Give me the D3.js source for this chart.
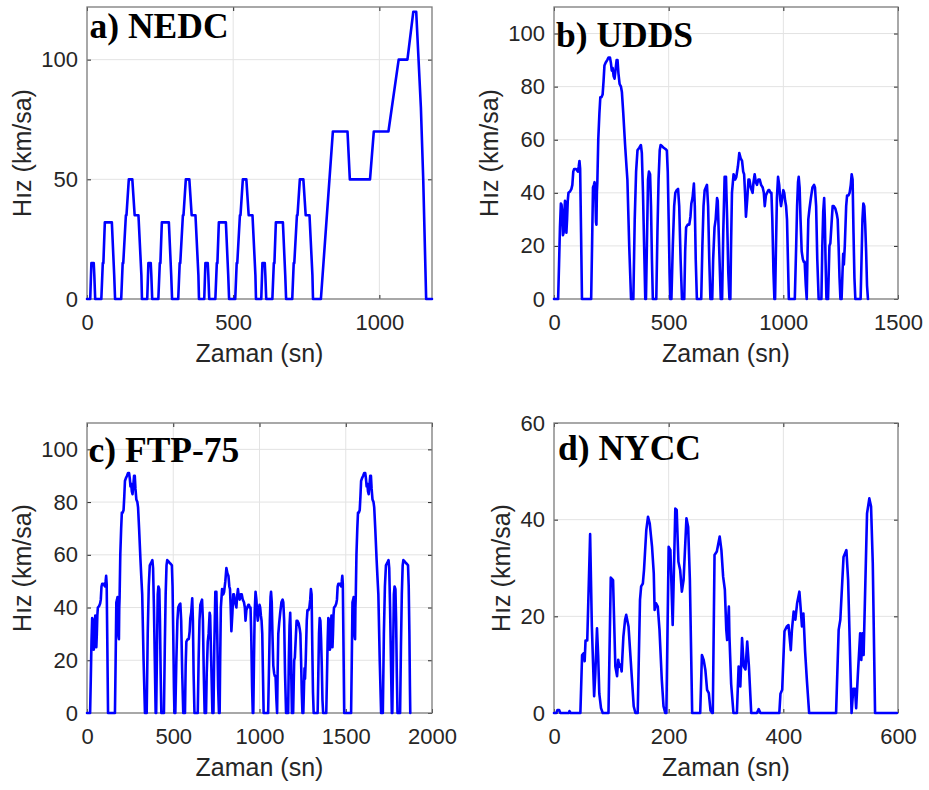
<!DOCTYPE html>
<html>
<head>
<meta charset="utf-8">
<script src="https://cdn.jsdelivr.net/npm/d3@7"></script>
<style>
  body { margin: 0; background: #fff; }
</style>
</head>
<body>
<svg id="chart" width="929" height="790"></svg>
<script>
// NEDC: 4 x ECE-15 + EUDC (sn, km/sa)
const nedcTime = [
  0, 11, 15, 23, 25, 28, 49, 54, 56, 61, 85, 93, 96, 117, 122, 124, 133, 135, 143, 155, 163, 176, 186, 188,
  195, 206, 210, 218, 220, 223, 244, 249, 251, 256, 280, 288, 291, 312, 317, 319, 328, 330, 338, 350, 358, 371, 381, 383,
  390, 401, 405, 413, 415, 418, 439, 444, 446, 451, 475, 483, 486, 507, 512, 514, 523, 525, 533, 545, 553, 566, 576, 578,
  585, 596, 600, 608, 610, 613, 634, 639, 641, 646, 670, 678, 681, 702, 707, 709, 718, 720, 728, 740, 748, 761, 771, 773,
  780, 800, 841, 891, 899, 968, 981, 1031, 1066, 1096, 1116, 1126, 1142, 1150, 1160, 1180
];
const nedcSpeed = [
  0, 0, 15, 15, 10, 0, 0, 15, 15, 32, 32, 10, 0, 0, 15, 15, 35, 35, 50, 50, 35, 35, 10, 0,
  0, 0, 15, 15, 10, 0, 0, 15, 15, 32, 32, 10, 0, 0, 15, 15, 35, 35, 50, 50, 35, 35, 10, 0,
  0, 0, 15, 15, 10, 0, 0, 15, 15, 32, 32, 10, 0, 0, 15, 15, 35, 35, 50, 50, 35, 35, 10, 0,
  0, 0, 15, 15, 10, 0, 0, 15, 15, 32, 32, 10, 0, 0, 15, 15, 35, 35, 50, 50, 35, 35, 10, 0,
  0, 0, 70, 70, 50, 50, 70, 70, 100, 100, 120, 120, 80, 50, 0, 0
];

// UDDS
const uddsTime = [
  0, 18, 22, 26, 30, 33, 36, 39, 42, 46, 48, 51, 54, 57, 60, 63, 70, 76, 80, 84, 88, 95, 100, 104, 108, 111, 114, 118, 122,
  162, 166, 170, 174, 177, 180, 183, 185, 187, 189, 193, 198, 202, 207, 212, 216, 220, 225, 232, 238, 244, 248, 252, 256,
  260, 264, 268, 273, 277, 281, 286, 292, 296, 302, 310, 316, 320, 328, 336,
  346, 352, 358, 364, 372, 379, 383, 388, 393, 398,
  401, 406, 410, 414, 419, 423, 427, 431,
  446, 451, 456, 461, 465, 472, 478, 486, 492, 496, 500, 504, 507,
  512, 518, 524, 529, 535, 541, 546, 552, 558,
  568, 572, 576, 583, 590, 595, 599, 604, 610, 614, 618, 623,
  642, 647, 652, 657, 662, 667, 672, 677, 682,
  690, 694, 700, 705, 711, 714, 720, 727,
  733, 738, 744, 750, 755, 760, 765,
  769, 772, 776, 783, 790, 795, 802, 808, 814, 820, 825, 829, 833, 837, 843, 848, 852, 858, 866, 870, 875, 880, 885, 891,
  897, 903, 910, 915, 919, 924, 929, 935, 939, 944, 948, 952, 957, 961,
  964, 968, 972, 977, 982, 987, 990, 995, 1000, 1004, 1008, 1012, 1016, 1020, 1024,
  1050, 1056, 1060, 1064, 1067, 1071, 1075, 1080, 1085, 1089, 1093, 1098, 1102,
  1105, 1109, 1114, 1120, 1127, 1134, 1138, 1143, 1148, 1154,
  1166, 1170, 1174, 1178, 1181, 1184, 1188,
  1195, 1198, 1201, 1205, 1210, 1215, 1220, 1227, 1233, 1237, 1241, 1245, 1249,
  1254, 1258, 1261, 1264, 1268, 1274, 1278, 1284, 1289, 1294, 1298, 1302, 1306, 1310, 1314,
  1337, 1341, 1345, 1349, 1353, 1357, 1361, 1365, 1369
];
const uddsSpeed = [
  0, 0, 13, 27, 36, 35.5, 32, 24, 25, 34, 37, 36, 25, 30, 37, 40, 40.5, 41.5, 43, 48, 49, 49, 48.5, 48, 50, 52, 49, 25, 0,
  0, 20, 42, 43, 44, 40, 29, 28, 40, 44, 60, 70, 76, 76, 77, 82, 88, 89, 90, 91, 91, 89, 86, 87,
  84, 83, 86, 90, 90, 85, 81, 80, 78, 70, 58, 50, 45, 20, 0,
  0, 30, 48, 56, 57, 58, 55, 40, 20, 0,
  0, 25, 45, 48, 47, 35, 15, 0,
  0, 25, 45, 56, 58, 57.5, 57, 56.5, 56, 48, 30, 10, 0,
  0, 20, 35, 40, 41, 41.5, 35, 15, 0,
  0, 18, 27, 28, 28, 31, 36, 38, 43.5, 35, 15, 0,
  0, 20, 35, 41, 42, 43, 35, 15, 0,
  0, 15, 27, 30, 38, 37, 20, 0,
  0, 25, 46, 46, 30, 10, 0,
  0, 20, 40, 47, 45, 46, 50, 55, 53, 52, 48, 47, 40, 31, 38, 45, 45, 42, 40, 44, 47, 44, 43, 45,
  45, 43, 42, 40, 35, 39, 40, 41, 41, 40, 40, 30, 10, 0,
  0, 20, 38, 46, 43, 37, 35, 38, 41, 40, 37, 35, 30, 15, 0,
  0, 20, 35, 44, 46, 42, 30, 18, 15, 14, 14, 5, 0,
  15, 30, 34, 38, 42, 43, 42, 35, 15, 0,
  0, 20, 33, 38, 30, 15, 0,
  0, 10, 20, 21, 28, 35, 35, 34, 32, 30, 20, 8, 0,
  0, 10, 17, 13, 20, 35, 39, 39, 40, 43, 47, 45, 25, 8, 0,
  0, 15, 30, 36, 35, 28, 18, 5, 0
];

// FTP-75 hot-start phase after the UDDS
const ftpHotTime = [
  1387, 1391, 1395, 1399, 1402, 1405, 1408, 1411, 1415, 1417, 1420, 1423, 1426, 1429, 1432, 1439, 1445, 1449, 1453,
  1457, 1464, 1469, 1473, 1477, 1480, 1483, 1487, 1491,
  1531, 1535, 1539, 1543, 1546, 1549, 1552, 1554, 1556, 1558, 1562, 1567, 1571, 1576, 1581, 1585, 1589, 1594, 1601,
  1607, 1613, 1617, 1621, 1625, 1629, 1633, 1637, 1642, 1646, 1650, 1655, 1661, 1665, 1671, 1679, 1685, 1689, 1697, 1705,
  1715, 1721, 1727, 1733, 1741, 1748, 1752, 1757, 1762, 1767,
  1770, 1775, 1779, 1783, 1788, 1792, 1796, 1800,
  1815, 1820, 1825, 1830, 1834, 1841, 1847, 1855, 1861, 1865, 1869, 1872, 1874
];
const ftpHotSpeed = [
  0, 13, 27, 36, 35.5, 32, 24, 25, 34, 37, 36, 25, 30, 37, 40, 40.5, 41.5, 43, 48,
  49, 49, 48.5, 48, 50, 52, 49, 25, 0,
  0, 20, 42, 43, 44, 40, 29, 28, 40, 44, 60, 70, 76, 76, 77, 82, 88, 89, 90,
  91, 91, 89, 86, 87, 84, 83, 86, 90, 90, 85, 81, 80, 78, 70, 58, 50, 45, 20, 0,
  0, 30, 48, 56, 57, 58, 55, 40, 20, 0,
  0, 25, 45, 48, 47, 35, 15, 0,
  0, 25, 45, 56, 58, 57.5, 57, 56.5, 56, 48, 30, 10, 0
];

// NYCC
const nyccTime = [
  0, 4, 6, 9, 11, 26, 27, 29,
  46, 49, 52, 53.5, 55, 58, 63, 66, 70, 72, 75, 77, 79, 82, 85,
  95, 99, 103, 107, 110, 112, 114, 116, 118, 121, 124, 126, 130, 133, 136, 139, 142,
  146, 150, 152, 155, 157, 161, 164, 167, 171, 174, 175.5, 178, 181, 184, 188, 191, 194,
  196, 200, 203, 207, 211.6, 214, 217, 220, 223, 226, 231, 234, 237, 241,
  255, 258, 261, 264, 267, 270, 273, 276,
  277, 280, 284, 289, 292, 295, 298, 300.5, 302, 305, 306, 309, 313,
  319, 322, 325, 328, 331, 334, 337, 340, 344,
  354, 357, 360,
  393, 395, 398, 402, 406, 409, 413, 415, 418, 421, 424, 428, 430, 432.5, 435, 438, 441, 445,
  492, 496.5, 499.4, 505, 510, 513, 516, 519, 522, 525, 527, 530, 534, 536, 538, 540, 546, 550, 553, 556, 560, 598
];
const nyccSpeed = [
  0, 0, 0.6, 0.6, 0, 0, 0.4, 0,
  0, 12, 12.4, 10.7, 15, 15, 37, 18, 3.5, 8, 17.5, 12, 4, 1, 0,
  0, 28, 27.5, 9.6, 7.6, 11, 9.6, 10, 8.6, 15.8, 19.3, 20.3, 17.9, 12.4, 6.9, 1.4, 0,
  0, 23.4, 26.2, 26.8, 29.6, 37.9, 40.6, 39.2, 34.4, 28.9, 21.3, 22.7, 22, 17.2, 6.9, 1.4, 0,
  0, 34.4, 33.7, 18.2, 42.3, 42, 31.3, 29.6, 25.1, 27.5, 40.3, 38.5, 27.5, 0,
  0, 12, 11, 8.9, 4.8, 4.1, 0.5, 0,
  0, 32.7, 33.4, 36.5, 33.7, 28.2, 25.5, 17.2, 15.1, 22, 15.8, 6, 0,
  0, 9.6, 5.5, 15.5, 9.6, 9, 14.8, 9.6, 0,
  0, 0.8, 0,
  0, 4, 4.8, 16.9, 17.9, 18.2, 13, 17.2, 21, 19.3, 22.7, 25.1, 22, 17.9, 20.6, 12.7, 6.9, 0,
  0, 17.2, 19.3, 32.3, 33.7, 27.5, 13.8, 0, 5, 5, 1, 8, 16.5, 11, 16.5, 12, 41.3, 44.4, 42.7, 31, 0, 0
];

const nedcXTicks = [0, 500, 1000];
const nedcYTicks = [0, 50, 100];
const uddsXTicks = [0, 500, 1000, 1500];
const ftpXTicks = [0, 500, 1000, 1500, 2000];
const speedYTicks = [0, 20, 40, 60, 80, 100];
const nyccXTicks = [0, 200, 400, 600];
const nyccYTicks = [0, 20, 40, 60];

const X_LABEL = "Zaman (sn)";
const Y_LABEL = "Hız (km/sa)";

const AXIS_COLOR = "#262626";
const BOX_COLOR = "#7a7a7a";
const GRID_COLOR = "#e3e3e3";
const LINE_COLOR = "#0000ff";
const SANS = "'Liberation Sans', Arial, Helvetica, sans-serif";
const SERIF = "'Liberation Serif', 'Times New Roman', serif";

const ftpTime = uddsTime.concat(ftpHotTime);
const ftpSpeed = uddsSpeed.concat(ftpHotSpeed);

const panels = [
  { title: "a) NEDC", time: nedcTime, speed: nedcSpeed, xMax: 1180, yMax: 122,
    xTicks: nedcXTicks, yTicks: nedcYTicks,
    left: 87, right: 432, top: 7, bottom: 299, titleDx: 2.5, titleDy: 30.5, yLabelGap: 56 },
  { title: "b) UDDS", time: uddsTime, speed: uddsSpeed, xMax: 1500, yMax: 110,
    xTicks: uddsXTicks, yTicks: speedYTicks,
    left: 554, right: 898, top: 7, bottom: 299, titleDx: 2, titleDy: 39.5, yLabelGap: 56.5 },
  { title: "c) FTP-75", time: ftpTime, speed: ftpSpeed, xMax: 2000, yMax: 110,
    xTicks: ftpXTicks, yTicks: speedYTicks,
    left: 87, right: 432, top: 423, bottom: 713, titleDx: 1.5, titleDy: 38.5, yLabelGap: 56 },
  { title: "d) NYCC", time: nyccTime, speed: nyccSpeed, xMax: 600, yMax: 60,
    xTicks: nyccXTicks, yTicks: nyccYTicks,
    left: 554, right: 898, top: 423, bottom: 713, titleDx: 4, titleDy: 37, yLabelGap: 44 },
];

const svg = d3.select("#chart");
const fmt = d3.format("d");

const styleAxis = (g) => {
  g.select(".domain").remove();
  g.attr("font-family", SANS).attr("font-size", 22).attr("color", AXIS_COLOR);
  g.selectAll(".tick line").attr("stroke", AXIS_COLOR).attr("stroke-width", 1);
};

panels.forEach((p) => {
  const xScale = d3.scaleLinear().domain([0, p.xMax]).range([p.left, p.right]);
  const yScale = d3.scaleLinear().domain([0, p.yMax]).range([p.bottom, p.top]);
  const g = svg.append("g");

  // grid
  g.append("g")
    .selectAll("line")
    .data(p.xTicks.filter((d) => d > 0 && d < p.xMax))
    .join("line")
    .attr("x1", (d) => xScale(d))
    .attr("x2", (d) => xScale(d))
    .attr("y1", p.top)
    .attr("y2", p.bottom)
    .attr("stroke", GRID_COLOR)
    .attr("stroke-width", 1);
  g.append("g")
    .selectAll("line")
    .data(p.yTicks.filter((d) => d > 0 && d < p.yMax))
    .join("line")
    .attr("x1", p.left)
    .attr("x2", p.right)
    .attr("y1", (d) => yScale(d))
    .attr("y2", (d) => yScale(d))
    .attr("stroke", GRID_COLOR)
    .attr("stroke-width", 1);

  // axes (inward ticks, mirrored on top/right)
  g.append("g")
    .attr("transform", `translate(0, ${p.bottom})`)
    .call(d3.axisBottom(xScale).tickValues(p.xTicks).tickFormat(fmt).tickSize(-4).tickPadding(15.5))
    .call(styleAxis);
  g.append("g")
    .attr("transform", `translate(${p.left}, 0)`)
    .call(d3.axisLeft(yScale).tickValues(p.yTicks).tickFormat(fmt).tickSize(-4).tickPadding(9))
    .call(styleAxis);
  g.append("g")
    .attr("transform", `translate(0, ${p.top})`)
    .call(d3.axisTop(xScale).tickValues(p.xTicks).tickSize(-4).tickFormat(""))
    .call(styleAxis);
  g.append("g")
    .attr("transform", `translate(${p.right}, 0)`)
    .call(d3.axisRight(yScale).tickValues(p.yTicks).tickSize(-4).tickFormat(""))
    .call(styleAxis);

  g.append("rect")
    .attr("x", p.left)
    .attr("y", p.top)
    .attr("width", p.right - p.left)
    .attr("height", p.bottom - p.top)
    .attr("fill", "none")
    .attr("stroke", BOX_COLOR)
    .attr("stroke-width", 1.3);

  const line = d3
    .line()
    .x((d) => xScale(d[0]))
    .y((d) => yScale(d[1]));

  g.append("path")
    .datum(d3.zip(p.time, p.speed))
    .attr("fill", "none")
    .attr("stroke", LINE_COLOR)
    .attr("stroke-width", 2.6)
    .attr("stroke-linejoin", "round")
    .attr("stroke-linecap", "round")
    .attr("d", line);

  // panel title
  g.append("text")
    .attr("x", p.left + p.titleDx)
    .attr("y", p.top + p.titleDy)
    .attr("font-family", SERIF)
    .attr("font-weight", "bold")
    .attr("font-size", 35.5)
    .attr("fill", "#000")
    .text(p.title);

  // axis labels
  g.append("text")
    .attr("x", (p.left + p.right) / 2)
    .attr("y", p.bottom + 62.5)
    .attr("text-anchor", "middle")
    .attr("font-family", SANS)
    .attr("font-size", 25)
    .attr("fill", AXIS_COLOR)
    .text(X_LABEL);

  const cy = (p.top + p.bottom) / 2;
  const lx = p.left - p.yLabelGap;
  g.append("text")
    .attr("transform", `translate(${lx}, ${cy}) rotate(-90)`)
    .attr("text-anchor", "middle")
    .attr("font-family", SANS)
    .attr("font-size", 25)
    .attr("fill", AXIS_COLOR)
    .text(Y_LABEL);
});
</script>
</body>
</html>
